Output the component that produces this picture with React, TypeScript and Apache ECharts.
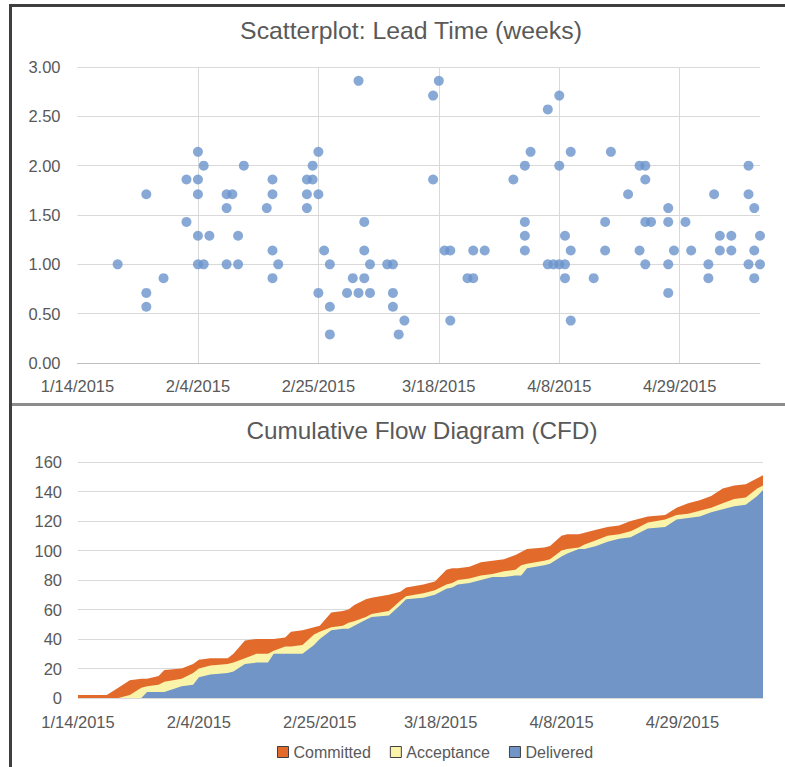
import React, { useEffect, useRef } from "react";
import * as echarts from "echarts";

// ---------- shared date handling (x values are days after 1/14/2015) ----------
const START_UTC = Date.UTC(2015, 0, 14);
const DAY_MS = 86400000;
const X_MIN = 0;
const X_MAX = 119; // 5/13/2015
const X_STEP = 21; // 3 weeks

// ---------- Scatterplot: lead time (weeks) by delivery day ----------
const LT_DAY = [
  7, 12, 12, 12, 15, 19, 19, 21, 21, 21, 21, 21, 22, 22, 23, 26, 26, 26, 27, 28, 28, 29,
  33, 34, 34, 34, 34, 35, 40, 40, 40, 41, 41, 42, 42, 42, 43, 44, 44, 44, 47, 48, 49, 49,
  50, 50, 50, 51, 51, 54, 55, 55, 55, 56, 57, 62, 62, 63, 64, 65, 65, 68, 69, 69, 71, 76,
  78, 78, 78, 78, 79, 82, 82, 83, 84, 84, 84, 85, 85, 85, 86, 86, 86, 90, 92, 92, 93, 96,
  98, 98, 99, 99, 99, 99, 100, 103, 103, 103, 103, 104, 106, 107, 110, 110, 111, 112, 112,
  114, 114, 117, 117, 117, 118, 118, 118, 119, 119,
];
const LT_WEEKS = [
  1.0, 1.71, 0.71, 0.57, 0.86, 1.86, 1.43, 2.14, 1.86, 1.71, 1.29, 1.0, 2.0, 1.0, 1.29, 1.71, 1.57, 1.0, 1.71, 1.29, 1.0, 2.0,
  1.57, 1.86, 1.71, 1.14, 0.86, 1.0, 1.86, 1.71, 1.57, 2.0, 1.86, 2.14, 1.71, 0.71, 1.14, 1.0, 0.57, 0.29, 0.71, 0.86, 2.86, 0.71,
  1.43, 1.14, 0.86, 1.0, 0.71, 1.0, 1.0, 0.71, 0.57, 0.29, 0.43, 2.71, 1.86, 2.86, 1.14, 1.14, 0.43, 0.86, 1.14, 0.86, 1.14, 1.86,
  2.0, 1.43, 1.29, 1.14, 2.14, 2.57, 1.0, 1.0, 2.71, 2.0, 1.0, 1.29, 1.0, 0.86, 2.14, 1.14, 0.43, 0.86, 1.43, 1.14, 2.14, 1.71,
  2.0, 1.14, 2.0, 1.86, 1.43, 1.0, 1.43, 1.57, 1.43, 1.0, 0.71, 1.14, 1.43, 1.14, 1.0, 0.86, 1.71, 1.29, 1.14,
  1.29, 1.14, 2.0, 1.71, 1.0, 1.57, 1.14, 0.86, 1.29, 1.0,
];

// ---------- Cumulative Flow Diagram: items per state by day ----------
const CFD_DAY = [
  0, 5, 7, 9, 11, 12, 14, 15, 18, 20, 21, 23, 26, 27, 29, 31, 33, 34, 36, 37, 39, 41, 42, 44, 46, 47, 48, 50, 51,
  54, 56, 57, 60, 62, 64, 65, 66, 68, 70, 72, 74, 76, 77, 78, 81, 82, 84, 85, 87, 88, 90, 92, 94, 96, 97, 99,
  102, 104, 106, 108, 110, 112, 114, 116, 118, 119,
];
const DELIVERED = [
  0, 0, 0, 0, 0, 4, 4, 4, 8, 9, 14, 16, 17, 18, 23, 24, 24, 30, 30, 30, 30, 36, 40, 46, 47, 47, 49, 53, 55,
  56, 63, 67, 68, 70, 74, 75, 77, 78, 80, 82, 82, 83, 83, 88, 90, 91, 96, 98, 101, 101, 103, 106, 108, 109, 111, 115,
  116, 121, 122, 123, 126, 128, 130, 131, 137, 141,
];
const ACCEPTANCE = [
  0, 0, 0, 2, 7, 4, 5, 7, 5, 8, 6, 6, 6, 6, 4, 6, 6, 2, 5, 5, 6, 7, 5, 2, 2, 4, 3, 2, 2,
  3, 3, 2, 3, 3, 3, 3, 3, 3, 3, 2, 4, 4, 7, 3, 3, 3, 4, 3, 1, 3, 4, 4, 3, 4, 4, 4,
  5, 3, 3, 4, 3, 4, 5, 5, 5, 3,
];
const COMMITTED = [
  2, 2, 7, 10, 6, 5, 6, 8, 7, 6, 6, 5, 4, 6, 12, 10, 10, 8, 6, 10, 10, 5, 4, 10, 10, 9, 11, 12, 11,
  11, 6, 6, 6, 6, 10, 10, 8, 8, 9, 9, 8, 10, 9, 10, 9, 9, 10, 10, 9, 8, 7, 6, 6, 7, 6, 4,
  3, 5, 7, 7, 8, 10, 9, 9, 7, 7,
];
const LEGEND_ORDER = ["Committed", "Acceptance", "Delivered"];

// ---------- styles ----------
const FONT = "'Liberation Sans', Arial, sans-serif";
const TEXT = "#595959";
const GRID_LINE = "#D9D9D9";
const DOT = "#6A93CC";
const BLUE = "#7195C6";
const YELLOW = "#FAF4AA";
const ORANGE = "#E26B2C";

const fmtDate = (d: number) => {
  const t = new Date(START_UTC + d * DAY_MS);
  return `${t.getUTCMonth() + 1}/${t.getUTCDate()}/${t.getUTCFullYear()}`;
};

const axisLabelBase = { color: TEXT, fontSize: 16.5, fontFamily: FONT };

function buildOption() {
  const pair = (xs: number[], ys: number[]) => xs.map((x, i) => [x, ys[i]]);
  // stacked band tops (cumulative count up to and including each state)
  const topDelivered = DELIVERED;
  const topAcceptance = DELIVERED.map((v, i) => v + ACCEPTANCE[i]);
  const topCommitted = topAcceptance.map((v, i) => v + COMMITTED[i]);
  const area = (name: string, tops: number[], color: string, z: number) => ({
    name,
    type: "line",
    xAxisIndex: 1,
    yAxisIndex: 1,
    z,
    data: pair(CFD_DAY, tops),
    symbol: "none",
    showSymbol: false,
    lineStyle: { width: 0, color },
    itemStyle: { color },
    areaStyle: { color, opacity: 1, origin: "start" },
    emphasis: { disabled: true },
  });
  return {
    animation: false,
    backgroundColor: "#ffffff",
    textStyle: { fontFamily: FONT },
    grid: [
      { left: 77.5, right: 25, top: 67, bottom: 404 },
      { left: 78, right: 22, top: 462, bottom: 69 },
    ],
    xAxis: [
      {
        gridIndex: 0,
        type: "value",
        min: X_MIN,
        max: X_MAX,
        interval: X_STEP,
        axisLine: { show: true, lineStyle: { color: "#BFBFBF", width: 1 } },
        axisTick: { show: false },
        splitLine: {
          show: true,
          showMinLine: false,
          showMaxLine: false,
          lineStyle: { color: GRID_LINE, width: 1 },
        },
        axisLabel: { ...axisLabelBase, formatter: fmtDate, margin: 14, showMaxLabel: false },
      },
      {
        gridIndex: 1,
        type: "value",
        min: X_MIN,
        max: X_MAX,
        interval: X_STEP,
        axisLine: { show: true, lineStyle: { color: GRID_LINE, width: 1 } },
        axisTick: { show: false },
        splitLine: { show: false },
        axisLabel: { ...axisLabelBase, formatter: fmtDate, margin: 15, showMaxLabel: false },
      },
    ],
    yAxis: [
      {
        gridIndex: 0,
        type: "value",
        min: 0,
        max: 3,
        interval: 0.5,
        axisLine: { show: false },
        axisTick: { show: false },
        splitLine: { show: true, lineStyle: { color: GRID_LINE, width: 1 } },
        axisLabel: { ...axisLabelBase, formatter: (v: number) => v.toFixed(2), margin: 17 },
      },
      {
        gridIndex: 1,
        type: "value",
        min: 0,
        max: 160,
        interval: 20,
        axisLine: { show: false },
        axisTick: { show: false },
        splitLine: { show: true, lineStyle: { color: GRID_LINE, width: 1 } },
        axisLabel: { ...axisLabelBase, margin: 16 },
      },
    ],
    legend: {
      data: LEGEND_ORDER,
      left: 277,
      top: 744,
      padding: 0,
      itemWidth: 11,
      itemHeight: 11,
      itemGap: 19,
      icon: "rect",
      selectedMode: false,
      textStyle: { color: TEXT, fontSize: 16, fontFamily: FONT },
      itemStyle: { borderColor: "#404040", borderWidth: 1 },
    },
    graphic: [
      { type: "rect", silent: true, shape: { x: 9, y: 4, width: 776, height: 3 }, style: { fill: "#3F3F3F" } },
      { type: "rect", silent: true, shape: { x: 9, y: 4, width: 3, height: 763 }, style: { fill: "#3F3F3F" } },
      { type: "rect", silent: true, shape: { x: 12, y: 403, width: 773, height: 3 }, style: { fill: "#8C8C8C" } },
      {
        type: "text",
        silent: true,
        x: 411,
        y: 30,
        style: {
          text: "Scatterplot: Lead Time (weeks)",
          fontSize: 24.8,
          fontFamily: FONT,
          fill: TEXT,
          align: "center",
          verticalAlign: "middle",
        },
      },
      {
        type: "text",
        silent: true,
        x: 422,
        y: 430,
        style: {
          text: "Cumulative Flow Diagram (CFD)",
          fontSize: 24.3,
          fontFamily: FONT,
          fill: TEXT,
          align: "center",
          verticalAlign: "middle",
        },
      },
    ],
    series: [
      {
        type: "scatter",
        xAxisIndex: 0,
        yAxisIndex: 0,
        data: pair(LT_DAY, LT_WEEKS),
        symbol: "circle",
        symbolSize: 10,
        itemStyle: { color: DOT },
        emphasis: { disabled: true },
      },
      area("Committed", topCommitted, ORANGE, 2),
      area("Acceptance", topAcceptance, YELLOW, 3),
      area("Delivered", topDelivered, BLUE, 4),
    ],
  };
}

export default function App() {
  const ref = useRef<HTMLDivElement>(null);
  useEffect(() => {
    if (!ref.current) return;
    const chart = echarts.init(ref.current, undefined, { renderer: "svg" });
    chart.setOption(buildOption() as any);
    return () => chart.dispose();
  }, []);
  return (
    <div
      ref={ref}
      style={{ position: "fixed", left: 0, top: 0, width: 785, height: 767, background: "#ffffff" }}
    />
  );
}
